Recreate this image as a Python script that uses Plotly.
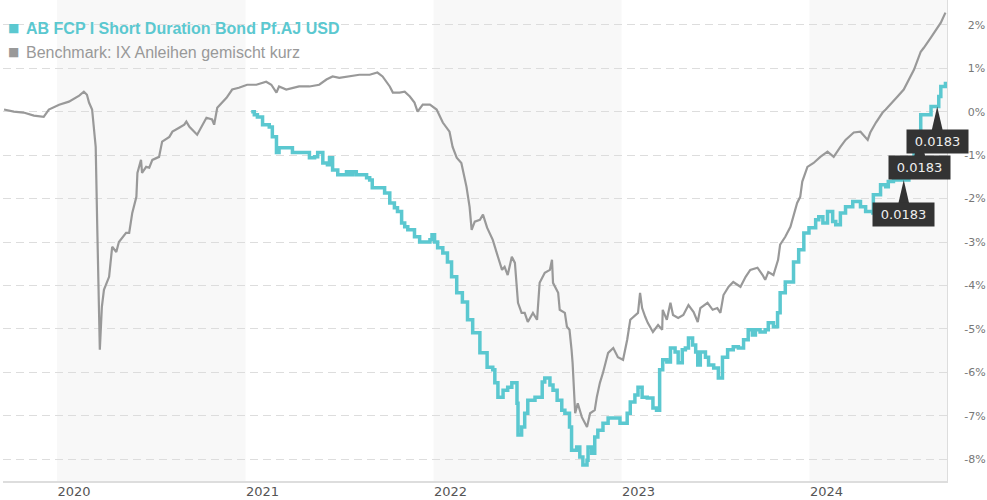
import plotly.graph_objects as go

# ---------------- data ----------------
fund_name = "AB FCP I Short Duration Bond Pf.AJ USD"
bench_name = "Benchmark: IX Anleihen gemischt kurz"

bench_dates = [
    "2019-09-20", "2019-09-29", "2019-10-09", "2019-10-28", "2019-11-17", "2019-12-06", "2019-12-16",
    "2020-01-05", "2020-01-24", "2020-02-13", "2020-02-22", "2020-02-28", "2020-03-03", "2020-03-09",
    "2020-03-16", "2020-03-19", "2020-03-22", "2020-03-24", "2020-03-28", "2020-04-01", "2020-04-11",
    "2020-04-17", "2020-04-25", "2020-04-30", "2020-05-14", "2020-05-20", "2020-05-26", "2020-06-03",
    "2020-06-05", "2020-06-12", "2020-06-14", "2020-06-22", "2020-06-28", "2020-07-04", "2020-07-17",
    "2020-07-23", "2020-08-06", "2020-08-12", "2020-08-25", "2020-09-04", "2020-09-08", "2020-09-14",
    "2020-09-29", "2020-10-09", "2020-10-17", "2020-10-28", "2020-11-01", "2020-11-07", "2020-11-25",
    "2020-12-06", "2020-12-19", "2021-01-04", "2021-01-22", "2021-02-10", "2021-02-20", "2021-03-02",
    "2021-03-07", "2021-03-21", "2021-04-15", "2021-05-05", "2021-05-24", "2021-06-07", "2021-06-19",
    "2021-07-02", "2021-07-22", "2021-08-10", "2021-08-30", "2021-09-14", "2021-09-24", "2021-10-08",
    "2021-10-14", "2021-10-27", "2021-11-06", "2021-11-16", "2021-11-25", "2021-12-01", "2021-12-11",
    "2021-12-25", "2022-01-07", "2022-01-19", "2022-02-01", "2022-02-07", "2022-02-15", "2022-02-24",
    "2022-03-06", "2022-03-12", "2022-03-16", "2022-03-22", "2022-04-01", "2022-04-07", "2022-04-15",
    "2022-04-26", "2022-05-06", "2022-05-14", "2022-05-19", "2022-05-25", "2022-06-02", "2022-06-08",
    "2022-06-14", "2022-06-21", "2022-06-27", "2022-07-03", "2022-07-13", "2022-07-21", "2022-07-26",
    "2022-08-05", "2022-08-15", "2022-08-19", "2022-08-21", "2022-08-31", "2022-09-03", "2022-09-13",
    "2022-09-17", "2022-09-22", "2022-09-26", "2022-09-28", "2022-10-03", "2022-10-08", "2022-10-16",
    "2022-10-26", "2022-11-01", "2022-11-10", "2022-11-14", "2022-11-20", "2022-11-26", "2022-12-06",
    "2022-12-16", "2022-12-25", "2023-01-04", "2023-01-12", "2023-01-18", "2023-01-27", "2023-02-02",
    "2023-02-06", "2023-02-10", "2023-02-16", "2023-02-21", "2023-03-03", "2023-03-13", "2023-03-21",
    "2023-03-22", "2023-03-30", "2023-04-06", "2023-04-11", "2023-04-21", "2023-05-01", "2023-05-11",
    "2023-05-21", "2023-05-29", "2023-06-03", "2023-06-17", "2023-06-27", "2023-07-06", "2023-07-12",
    "2023-07-18", "2023-07-28", "2023-08-06", "2023-08-20", "2023-08-30", "2023-09-08", "2023-09-22",
    "2023-10-02", "2023-10-07", "2023-10-13", "2023-10-23", "2023-11-01", "2023-11-05", "2023-11-15",
    "2023-11-25", "2023-12-08", "2023-12-14", "2023-12-18", "2023-12-28", "2024-01-09", "2024-01-22",
    "2024-02-05", "2024-02-17", "2024-03-01", "2024-03-11", "2024-03-27", "2024-04-09", "2024-04-23",
    "2024-04-28", "2024-05-09", "2024-05-22", "2024-05-28", "2024-06-10", "2024-06-20", "2024-07-02",
    "2024-07-12", "2024-07-22", "2024-08-04", "2024-08-10", "2024-08-24", "2024-09-06", "2024-09-12",
    "2024-09-21",
]
bench_values = [
    0.05, 0.02, 0.00, -0.02, -0.09, -0.12, 0.05,
    0.16, 0.23, 0.37, 0.46, 0.39, 0.21, 0.05,
    -0.81, -2.65, -4.56, -5.48, -4.49, -4.10, -3.80,
    -3.11, -3.23, -3.00, -2.79, -2.79, -2.33, -1.96,
    -1.41, -1.11, -1.41, -1.27, -1.29, -1.11, -1.04,
    -0.69, -0.58, -0.46, -0.37, -0.30, -0.23, -0.35,
    -0.53, -0.30, -0.14, -0.18, -0.30, 0.09, 0.32,
    0.51, 0.55, 0.62, 0.62, 0.69, 0.62, 0.44,
    0.58, 0.51, 0.58, 0.58, 0.62, 0.74, 0.81,
    0.78, 0.81, 0.85, 0.85, 0.90, 0.81, 0.58,
    0.44, 0.44, 0.46, 0.35, 0.21, 0.00, 0.16,
    0.16, 0.05, -0.25, -0.46, -0.81, -1.06, -1.18,
    -1.73, -2.19, -2.72, -2.53, -2.49, -2.37, -2.67,
    -2.95, -3.34, -3.64, -3.57, -3.76, -3.34, -3.48,
    -4.40, -4.63, -4.63, -4.84, -4.63, -4.79, -3.94,
    -3.71, -3.64, -3.41, -3.94, -4.17, -4.56, -4.63,
    -4.95, -5.02, -5.48, -5.78, -6.94, -6.71, -7.03,
    -7.26, -6.94, -6.87, -6.57, -6.24, -6.01, -5.55,
    -5.44, -5.65, -5.71, -5.25, -4.79, -4.68, -4.63,
    -4.17, -4.52, -4.72, -4.86, -5.07, -4.91, -5.02,
    -4.56, -4.79, -4.40, -4.68, -4.75, -4.68, -4.45,
    -4.61, -4.84, -4.52, -4.40, -4.56, -4.52, -4.63,
    -4.22, -4.03, -3.92, -4.03, -3.80, -3.64, -3.59,
    -3.76, -3.87, -3.69, -3.76, -3.41, -3.06, -2.88,
    -2.65, -2.10, -1.96, -1.61, -1.27, -1.18, -1.04,
    -0.92, -1.04, -0.81, -0.65, -0.48, -0.46, -0.65,
    -0.48, -0.25, -0.02, 0.05, 0.21, 0.35, 0.51,
    0.74, 0.97, 1.38, 1.47, 1.71, 1.94, 2.05,
    2.28,
]

fund_dates = [
    "2021-01-12", "2021-01-18", "2021-01-24", "2021-02-03", "2021-02-16", "2021-02-22", "2021-03-02",
    "2021-03-07", "2021-03-13", "2021-03-31", "2021-04-02", "2021-04-29", "2021-05-05", "2021-05-15",
    "2021-05-21", "2021-05-29", "2021-05-31", "2021-06-09", "2021-06-13", "2021-06-19", "2021-06-29",
    "2021-07-08", "2021-07-16", "2021-07-22", "2021-07-28", "2021-08-04", "2021-08-24", "2021-08-30",
    "2021-09-04", "2021-09-22", "2021-09-28", "2021-10-08", "2021-10-17", "2021-10-23", "2021-10-31",
    "2021-11-06", "2021-11-12", "2021-11-25", "2021-12-05", "2021-12-25", "2021-12-29", "2022-01-03",
    "2022-01-09", "2022-01-19", "2022-01-28", "2022-02-05", "2022-02-15", "2022-02-26", "2022-03-08",
    "2022-03-18", "2022-04-01", "2022-04-15", "2022-04-26", "2022-04-30", "2022-05-06", "2022-05-16",
    "2022-05-25", "2022-06-02", "2022-06-12", "2022-06-14", "2022-06-21", "2022-06-27", "2022-07-03",
    "2022-07-11", "2022-07-17", "2022-07-23", "2022-07-31", "2022-08-05", "2022-08-15", "2022-08-21",
    "2022-08-29", "2022-09-07", "2022-09-13", "2022-09-22", "2022-09-26", "2022-10-06", "2022-10-12",
    "2022-10-18", "2022-10-26", "2022-10-28", "2022-11-04", "2022-11-10", "2022-11-16", "2022-11-26",
    "2022-12-06", "2022-12-20", "2022-12-29", "2023-01-12", "2023-01-18", "2023-01-27", "2023-02-02",
    "2023-02-10", "2023-02-20", "2023-03-03", "2023-03-10", "2023-03-16", "2023-03-22", "2023-03-30",
    "2023-04-06", "2023-04-15", "2023-04-21", "2023-04-29", "2023-05-05", "2023-05-11", "2023-05-19",
    "2023-05-25", "2023-05-29", "2023-06-03", "2023-06-13", "2023-06-19", "2023-06-29", "2023-07-08",
    "2023-07-16", "2023-07-26", "2023-08-06", "2023-08-16", "2023-08-26", "2023-09-04", "2023-09-12",
    "2023-09-18", "2023-09-27", "2023-10-07", "2023-10-13", "2023-10-23", "2023-10-31", "2023-11-05",
    "2023-11-15", "2023-11-25", "2023-12-01", "2023-12-11", "2023-12-21", "2023-12-31", "2024-01-13",
    "2024-01-19", "2024-01-27", "2024-02-05", "2024-02-15", "2024-02-21", "2024-03-01", "2024-03-11",
    "2024-03-25", "2024-04-03", "2024-04-09", "2024-04-19", "2024-05-03", "2024-05-04", "2024-05-18",
    "2024-05-28", "2024-06-02", "2024-06-12", "2024-07-02", "2024-07-12", "2024-07-22", "2024-08-02",
    "2024-08-04", "2024-08-18", "2024-08-24", "2024-09-02", "2024-09-08", "2024-09-12", "2024-09-21",
]
fund_values = [
    0.00, -0.07, -0.12, -0.30, -0.35, -0.58, -0.94,
    -0.83, -0.83, -0.83, -0.94, -0.94, -1.06, -1.04,
    -0.94, -0.94, -1.18, -1.22, -1.06, -1.34, -1.45,
    -1.45, -1.38, -1.45, -1.38, -1.45, -1.52, -1.57,
    -1.75, -1.75, -1.87, -2.10, -2.21, -2.30, -2.56,
    -2.65, -2.72, -2.88, -3.00, -2.95, -2.83, -3.00,
    -3.13, -3.25, -3.46, -3.80, -4.17, -4.38, -4.79,
    -5.09, -5.55, -5.88, -5.94, -6.24, -6.57, -6.41,
    -6.34, -6.24, -6.71, -7.44, -7.26, -6.94, -6.64,
    -6.64, -6.57, -6.57, -6.22, -6.13, -6.29, -6.41,
    -6.64, -6.87, -6.94, -7.26, -7.79, -7.72, -7.95,
    -8.13, -8.02, -7.72, -7.86, -7.49, -7.33, -7.17,
    -7.05, -7.05, -7.17, -6.94, -6.68, -6.52, -6.34,
    -6.57, -6.59, -6.82, -6.87, -5.94, -5.71, -5.76,
    -5.44, -5.53, -5.78, -5.48, -5.44, -5.21, -5.37,
    -5.53, -5.83, -5.53, -5.65, -5.83, -5.90, -6.13,
    -5.65, -5.48, -5.41, -5.44, -5.25, -5.02, -5.14,
    -5.02, -5.07, -5.02, -4.86, -4.95, -4.63, -4.17,
    -3.92, -3.92, -3.46, -3.18, -2.79, -2.67, -2.49,
    -2.42, -2.56, -2.30, -2.53, -2.60, -2.33, -2.19,
    -2.07, -2.07, -2.19, -2.30, -2.33, -1.91, -1.68,
    -1.73, -1.61, -1.57, -1.57, -1.22, -0.88, -0.48,
    -0.07, -0.07, 0.12, 0.12, 0.35, 0.58, 0.69,
]

flag_dates = ["2024-07-02", "2024-08-02", "2024-09-05"]
flag_values = [-1.57, -0.48, 0.12]
flag_labels = ["0.0183", "0.0183", "0.0183"]

year_ticks = ["2020-01-01", "2021-01-01", "2022-01-01", "2023-01-01", "2024-01-01"]
year_labels = ["2020", "2021", "2022", "2023", "2024"]
shaded_years = [("2020-01-01", "2021-01-01"), ("2022-01-01", "2023-01-01"), ("2024-01-01", "2024-09-24")]

pct_ticks = [2, 1, 0, -1, -2, -3, -4, -5, -6, -7, -8]

# ---------------- styling ----------------
TEAL = "#5bc8d0"
GREY = "#999999"
FLAG_BG = "#333333"

fig = go.Figure()

fig.add_trace(go.Scatter(
    x=bench_dates, y=bench_values, mode="lines", name=bench_name,
    line=dict(color=GREY, width=2.2), hoverinfo="skip",
))
fig.add_trace(go.Scatter(
    x=fund_dates, y=fund_values, mode="lines", name=fund_name,
    line=dict(color=TEAL, width=3.5, shape="hv"), hoverinfo="skip",
))

for a, b in shaded_years:
    fig.add_vrect(x0=a, x1=b, fillcolor="#f8f8f8", line_width=0, layer="below")

# flags: triangle pointer (pixel-sized shape) + dark label box
for d, v, lab in zip(flag_dates, flag_values, flag_labels):
    fig.add_shape(
        type="path", xref="x", yref="y", xsizemode="pixel", ysizemode="pixel",
        xanchor=d, yanchor=v, path="M 0 0 L -6 -26 L 6 -26 Z",
        fillcolor=FLAG_BG, line=dict(width=0), layer="above",
    )
    fig.add_annotation(
        x=d, y=v, xref="x", yref="y", text=lab, showarrow=False,
        yshift=-35, xanchor="center", yanchor="middle",
        font=dict(family="DejaVu Sans", size=13, color="#eeeeee"),
        bgcolor=FLAG_BG, borderpad=3, width=55, height=17,
    )

# legend drawn as text items
legend_items = [(fund_name, TEAL, True, -28), (bench_name, GREY, False, -52)]
for name, col, bold, dy in legend_items:
    fig.add_annotation(
        x=0, y=1, xref="paper", yref="paper", xshift=3, yshift=dy,
        text="■", showarrow=False, xanchor="left", yanchor="middle",
        font=dict(family="DejaVu Sans", size=12, color=col),
    )
    fig.add_annotation(
        x=0, y=1, xref="paper", yref="paper", xshift=21, yshift=dy,
        text=f"<b>{name}</b>" if bold else name, showarrow=False,
        xanchor="left", yanchor="middle",
        font=dict(family="Liberation Sans, Arial", size=16, color=col),
    )

pct_text = [("\u00a0" if t >= 0 else "") + f"{t}%" for t in pct_ticks]

fig.update_layout(
    width=987, height=500,
    margin=dict(l=3, r=40, t=0, b=19),
    paper_bgcolor="white", plot_bgcolor="white",
    showlegend=False,
    xaxis=dict(
        type="date", range=["2019-09-18", "2024-09-24"],
        tickvals=year_ticks, ticktext=year_labels, ticklabelshift=17,
        ticklabelstandoff=-3,
        showgrid=False, zeroline=False, automargin=False,
        showline=True, linecolor="#dddddd", linewidth=2,
        ticks="", tickfont=dict(family="DejaVu Sans", size=13, color="#555555"),
    ),
    yaxis=dict(
        side="right", range=[-8.50, 2.57], automargin=False,
        tickvals=pct_ticks, ticktext=pct_text,
        showgrid=True, gridcolor="#dddddd", gridwidth=1, griddash="8px,5px",
        zeroline=False, showline=True, linecolor="#dddddd", linewidth=1,
        ticks="outside", ticklen=14, tickcolor="rgba(0,0,0,0)",
        tickfont=dict(family="DejaVu Sans", size=11, color="#777777"),
    ),
)

fig.write_html(
    "out.html",
    config={"displayModeBar": False},
    post_script="document.body.style.margin='0';document.body.style.overflow='hidden';",
)
